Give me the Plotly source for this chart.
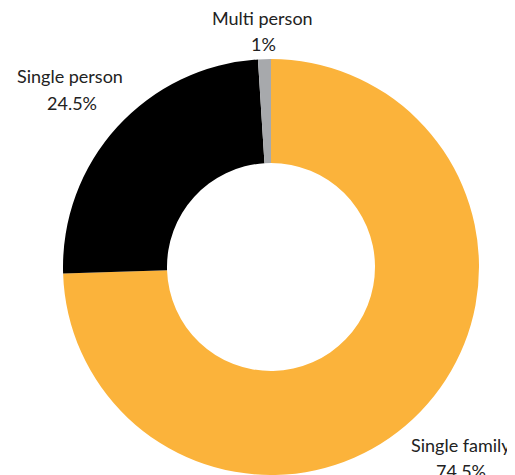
import plotly.graph_objects as go

categories = ["Single family", "Single person", "Multi person"]
values = [74.5, 24.5, 1]
colors = ["#FBB33B", "#000000", "#A7A9AC"]

# page body adds an 8px margin; figure fills the rest of the 515x475 window
OFF = 8
W, H = 515 - OFF, 475 - OFF

cx, cy, R = 271 - OFF, 270 - OFF, 208  # pie centre / radius in figure pixels

fig = go.Figure(go.Pie(
    labels=categories,
    values=values,
    hole=0.5,
    sort=False,
    direction="clockwise",
    rotation=0,
    marker=dict(colors=colors, line=dict(width=0)),
    textinfo="none",
    hoverinfo="label+percent",
    domain=dict(x=[(cx - R) / W, (cx + R) / W], y=[0, 2 * R / H]),
    showlegend=False,
))

# label positions (screen-pixel centres): name line, percent line
label_pos = {
    "Single family": ((461, 445), (461, 471)),
    "Single person": ((70, 76), (72, 103)),
    "Multi person": ((262, 18), (263, 44)),
}

font = dict(family="Lato, 'Open Sans', sans-serif", size=18, color="#222222")
total = sum(values)
for cat, v in zip(categories, values):
    (nx, ny), (px, py) = label_pos[cat]
    pct = v / total * 100
    fig.add_annotation(x=(nx - OFF) / W, y=1 - (ny - OFF) / H,
                       xref="paper", yref="paper",
                       text=cat, showarrow=False, font=font,
                       xanchor="center", yanchor="middle")
    fig.add_annotation(x=(px - OFF) / W, y=1 - (py - OFF) / H,
                       xref="paper", yref="paper",
                       text=f"{pct:g}%", showarrow=False, font=font,
                       xanchor="center", yanchor="middle")

fig.update_layout(
    width=W, height=H,
    margin=dict(l=0, r=0, t=0, b=0),
    paper_bgcolor="white",
    plot_bgcolor="white",
)

fig.write_html("out.html")
